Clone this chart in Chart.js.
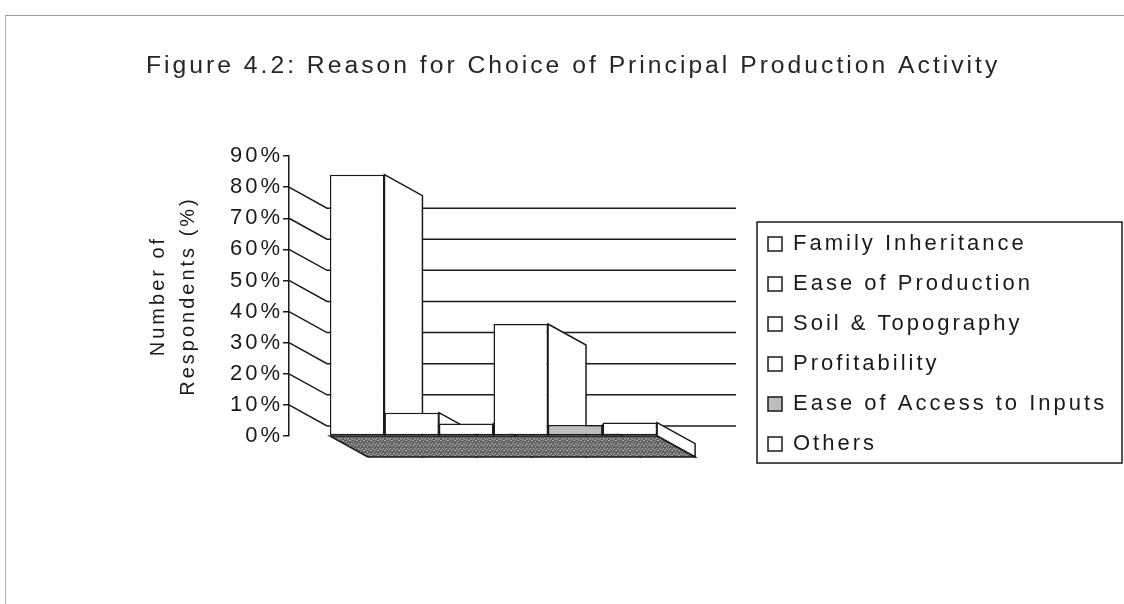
<!DOCTYPE html>
<html>
<head>
<meta charset="utf-8">
<title>Figure 4.2</title>
<script src="https://cdn.jsdelivr.net/npm/chart.js@4.4.1/dist/chart.umd.min.js"></script>
<style>
  html, body { margin: 0; padding: 0; background: #fff; }
  #wrap { position: relative; width: 1124px; height: 604px; overflow: hidden; }
  #frame { position: absolute; left: 5px; top: 15px; right: -2px; bottom: -2px; border-top: 1px solid #9c9c9c; border-left: 1px solid #b4b4b4; }
  #chart { position: absolute; left: 0; top: 0; }
</style>
</head>
<body>
<div id="wrap">
  <div id="frame"></div>
  <canvas id="chart" width="1124" height="604"></canvas>
</div>
<script>
// reasons given and share of respondents (%)
const groups = ["Reason"];
const reasons = ["Family Inheritance", "Ease of Production", "Soil & Topography", "Profitability", "Ease of Access to Inputs", "Others"];
const respondents = [84, 7.5, 4, 36, 3.5, 4.3];
const barColors = ["#ffffff", "#ffffff", "#ffffff", "#ffffff", "#bdbdbd", "#ffffff"];
const yTicks = [0, 10, 20, 30, 40, 50, 60, 70, 80, 90];
const wallLines = [10, 20, 30, 40, 50, 60, 70, 80];

const FONT = "'Liberation Sans', Arial, sans-serif";
const INK = "#1a1a1a";
const DEPTH_X = 38;   // 3d offset of the back plane
const DEPTH_Y = 21;
const SPACING = "3px";

const ctx = document.getElementById("chart").getContext("2d");

// speckled grey for the floor
function makeFloorPattern(c) {
  const tile = document.createElement("canvas");
  tile.width = 7;
  tile.height = 5;
  const p = tile.getContext("2d");
  p.fillStyle = "#6c6c6c";
  p.fillRect(0, 0, 7, 5);
  p.fillStyle = "#a9a9a9";
  [[0, 0], [3, 1], [5, 3], [1, 3], [6, 0], [2, 4], [4, 4]].forEach(d => p.fillRect(d[0], d[1], 1, 1));
  p.fillStyle = "#4e4e4e";
  [[2, 0], [5, 1], [0, 2], [4, 2], [6, 4]].forEach(d => p.fillRect(d[0], d[1], 1, 1));
  return c.createPattern(tile, "repeat");
}
const floorPattern = makeFloorPattern(ctx);

const depthPlugin = {
  id: "depth",
  beforeUpdate(chart) {
    chart.ctx.letterSpacing = SPACING;
  },
  beforeDraw(chart) {
    chart.ctx.letterSpacing = SPACING;
  },
  afterLayout(chart) {
    // legend sits in its own box right of the plot
    const lg = chart.legend;
    const a = chart.chartArea;
    lg.left = a.right + 52;
    lg.top = a.top + 59;
    lg.width = 380;
    lg.height = 320;
    lg.right = lg.left + lg.width;
    lg.bottom = lg.top + lg.height;
  },
  beforeDatasetsDraw(chart) {
    const c = chart.ctx;
    const a = chart.chartArea;
    const y = chart.scales.y;
    const base = y.getPixelForValue(0);
    c.save();
    c.strokeStyle = INK;
    c.lineWidth = 1.5;

    // side wall and back wall gridlines
    c.beginPath();
    wallLines.forEach(v => {
      const py = y.getPixelForValue(v);
      c.moveTo(a.left, py);
      c.lineTo(a.left + DEPTH_X, py + DEPTH_Y);
      c.lineTo(a.right + DEPTH_X, py + DEPTH_Y);
    });
    c.stroke();

    // right side face of each column
    const bars = chart.data.datasets.map((ds, i) => chart.getDatasetMeta(i).data[0]);
    bars.forEach((bar, i) => {
      const r = bar.x + bar.width / 2;
      c.beginPath();
      c.moveTo(r, bar.y);
      c.lineTo(r + DEPTH_X, bar.y + DEPTH_Y);
      c.lineTo(r + DEPTH_X, base + DEPTH_Y);
      c.lineTo(r, base);
      c.closePath();
      c.fillStyle = barColors[i];
      c.fill();
      c.stroke();
    });

    // floor under the columns
    const first = bars[0];
    const last = bars[bars.length - 1];
    const x0 = first.x - first.width / 2;
    const x1 = last.x + last.width / 2;
    c.beginPath();
    c.moveTo(x0, base);
    c.lineTo(x1, base);
    c.lineTo(x1 + DEPTH_X, base + DEPTH_Y);
    c.lineTo(x0 + DEPTH_X, base + DEPTH_Y);
    c.closePath();
    c.fillStyle = floorPattern;
    c.fill();
    c.stroke();
    c.restore();
  },
  afterDraw(chart) {
    const a = chart.chartArea;
    const c = chart.ctx;
    c.save();
    c.strokeStyle = INK;
    c.lineWidth = 1.5;
    c.strokeRect(a.right + 59, a.top + 66, 365, 241);
    c.restore();
  }
};

const chart = new Chart(ctx, {
  type: "bar",
  data: {
    labels: groups,
    datasets: reasons.map((r, i) => ({
      label: r,
      data: [respondents[i]],
      backgroundColor: barColors[i],
      borderColor: INK,
      borderWidth: 1.5,
      borderSkipped: false,
      categoryPercentage: 0.8,
      barPercentage: 1
    }))
  },
  options: {
    responsive: false,
    animation: false,
    layout: { padding: { left: 146, right: 0, top: 0, bottom: 168 } },
    plugins: {
      title: {
        display: true,
        text: "Figure 4.2: Reason for Choice of Principal Production Activity",
        align: "start",
        color: "#262626",
        font: { family: FONT, size: 24.7, weight: "normal", lineHeight: 1.2 },
        padding: { top: 51, bottom: 75.4 }
      },
      legend: {
        position: "chartArea",
        align: "start",
        labels: {
          color: INK,
          font: { family: FONT, size: 22 },
          boxWidth: 14,
          boxHeight: 14,
          padding: 18
        }
      },
      tooltip: { enabled: false }
    },
    scales: {
      x: { display: false },
      y: {
        min: 0,
        max: 90,
        afterFit(s) { s.width = 143; },
        afterBuildTicks(s) { s.ticks = yTicks.map(v => ({ value: v })); },
        ticks: {
          callback: v => v + "%",
          color: INK,
          font: { family: FONT, size: 22 },
          padding: 0
        },
        grid: { drawOnChartArea: false, drawTicks: true, tickLength: 6, color: INK, lineWidth: 1.5 },
        border: { display: true, color: INK, width: 1.5 },
        title: {
          display: true,
          text: ["Number of", "Respondents (%)"],
          color: INK,
          font: { family: FONT, size: 20, lineHeight: 1.5 },
          padding: { top: -3, bottom: 0 }
        }
      },
      side: {
        type: "linear",
        position: "right",
        afterFit(s) { s.width = 1124 - 698; },
        ticks: { display: false },
        grid: { display: false },
        border: { display: false }
      }
    }
  },
  plugins: [depthPlugin]
});
</script>
</body>
</html>
